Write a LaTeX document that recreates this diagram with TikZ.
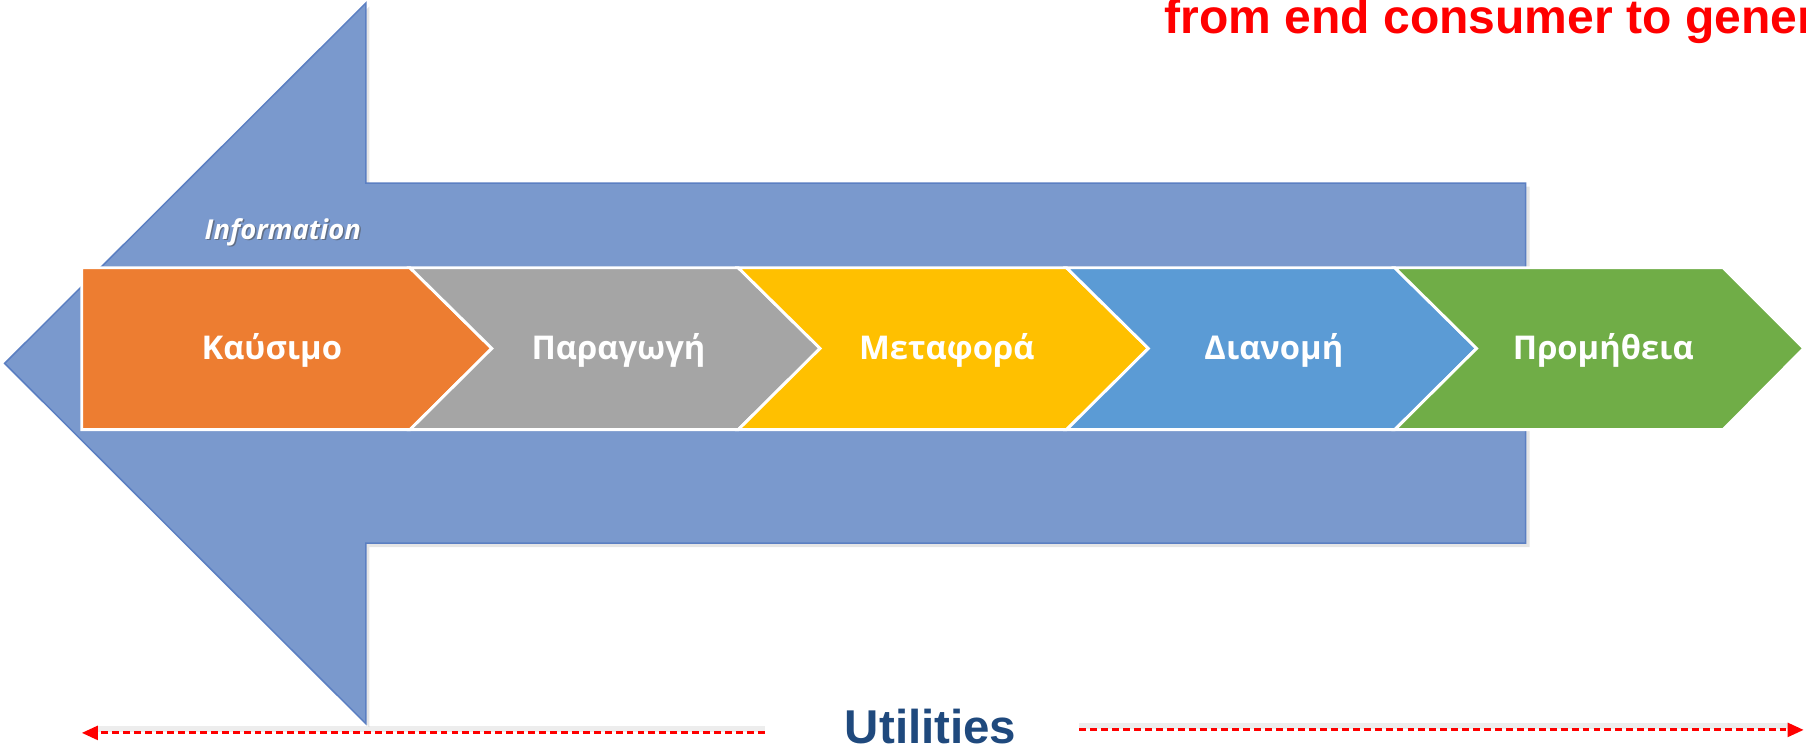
\documentclass[tikz,border=0pt]{standalone}
\usepackage{fontspec}
\usetikzlibrary{arrows.meta}
\newfontfamily\osans{Open Sans}
\newfontfamily\arialf{Liberation Sans}
\definecolor{bigblue}{HTML}{7A99CD}
\definecolor{bigedge}{HTML}{5B7FC2}
\definecolor{corange}{HTML}{ED7D31}
\definecolor{cgray}{HTML}{A5A5A5}
\definecolor{cyellow}{HTML}{FFC000}
\definecolor{cblue}{HTML}{5B9BD5}
\definecolor{cgreen}{HTML}{70AD47}
\definecolor{utilblue}{HTML}{1F497D}
\definecolor{redtxt}{HTML}{FF0000}
\tikzset{
  chev/.style={draw=white, line width=2.5pt, line join=miter},
  chevtext/.style={anchor=base, text=white, inner sep=0pt, font=\osans\bfseries\fontsize{28.4}{34}\selectfont},
  reddash/.style={draw=redtxt, line width=2.6pt, dash pattern=on 6pt off 3.5pt, -{Triangle[length=14pt,width=12pt]}},
  dashshadow/.style={draw=black, opacity=0.07, line width=5pt},
}
\begin{document}
\begin{tikzpicture}[x=1pt,y=-1pt]
\clip (0,0) rectangle (1568,651.2);
\fill[white] (0,0) rectangle (1568,651.2);
% big arrow shadow
\fill[black, opacity=0.10] (7,319) -- (320.7,5.6) -- (320.7,162) -- (1328,162) -- (1328,475) -- (320.7,475) -- (320.7,631.4) -- cycle;
% big arrow
\draw[fill=bigblue, draw=bigedge, line width=1.3pt, line join=miter]
  (4,315.5) -- (317.7,2.6) -- (317.7,159) -- (1324.5,159) -- (1324.5,471.5) -- (317.7,471.5) -- (317.7,628.4) -- cycle;
% Information label
\node[anchor=base west, inner sep=0pt, text=black!70, opacity=0.55, font=\osans\bfseries\itshape\fontsize{23.8}{28}\selectfont] at (178.8,209) {Information};
\node (info) [anchor=base west, inner sep=0pt, text=white, font=\osans\bfseries\itshape\fontsize{23.8}{28}\selectfont] at (177.5,207.5) {Information};
% chevrons
\path[chev, fill=corange] (71,232.5) -- (356,232.5) -- (427,302.5) -- (356,373) -- (71,373) -- cycle;
\path[chev, fill=cgray] (356,232.5) -- (641,232.5) -- (712,302.5) -- (641,373) -- (356,373) -- (427,302.5) -- cycle;
\path[chev, fill=cyellow] (641,232.5) -- (926,232.5) -- (997,302.5) -- (926,373) -- (641,373) -- (712,302.5) -- cycle;
\path[chev, fill=cblue] (926,232.5) -- (1211,232.5) -- (1282,302.5) -- (1211,373) -- (926,373) -- (997,302.5) -- cycle;
\path[chev, fill=cgreen] (1211,232.5) -- (1496,232.5) -- (1566,302.5) -- (1496,373) -- (1211,373) -- (1282,302.5) -- cycle;
\node (c1) [chevtext] at (236,312.5) {Καύσιμο};
\node (c2) [chevtext] at (537,312.5) {Παραγωγή};
\node (c3) [chevtext] at (822,312.5) {Μεταφορά};
\node (c4) [chevtext] at (1106,312.5) {Διανομή};
\node (c5) [chevtext] at (1392,312.5) {Προμήθεια};
% top red text
\node (title) [anchor=base west, inner sep=0pt, text=redtxt, font=\arialf\bfseries\fontsize{41.7}{48}\selectfont] at (1011,29) {from end consumer to gener};
% Utilities
\node (util) [anchor=base, inner sep=0pt, text=utilblue, font=\arialf\bfseries\fontsize{41.2}{48}\selectfont] at (808,645.5) {Utilities};
\coordinate (lstart) at (664,636.3);
\coordinate (lend) at (71,636.3);
\coordinate (rstart) at (937,633.7);
\coordinate (rend) at (1566,633.7);
\draw[dashshadow] ([yshift=3.5pt]lstart) -- ([yshift=3.5pt,xshift=14pt]lend);
\draw[dashshadow] ([yshift=3.5pt]rstart) -- ([yshift=3.5pt,xshift=-14pt]rend);
\draw[reddash] (lstart) -- (lend);
\draw[reddash] (rstart) -- (rend);
\end{tikzpicture}
\end{document}
